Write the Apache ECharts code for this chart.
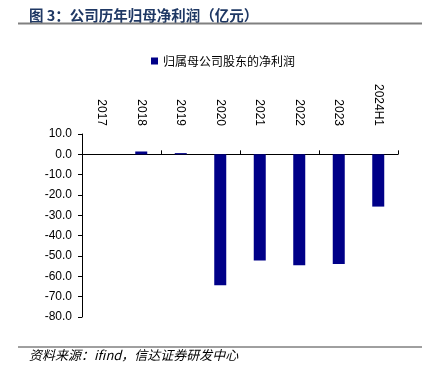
<!DOCTYPE html>
<html><head><meta charset="utf-8">
<script src="https://cdn.jsdelivr.net/npm/echarts@6/dist/echarts.min.js"></script>
<style>html,body{margin:0;padding:0;background:#fff}#c{width:425px;height:372px}</style>
</head><body><div id="c"></div>
<script>
const categories = ['2017','2018','2019','2020','2021','2022','2023','2024H1'];
const netProfit = [0.0, 1.4, 0.6, -64.4, -52.2, -54.5, -53.9, -25.7];
const seriesName = '归属母公司股东的净利润';
const titleText = '图 3：公司历年归母净利润（亿元）';
const sourceText = '资料来源：ifind，信达证券研发中心';

const chart = echarts.init(document.getElementById('c'), null, {renderer:'canvas'});
chart.setOption({
  animation:false,
  backgroundColor:'#fff',
  textStyle:{fontFamily:'Liberation Sans, Arial, sans-serif'},
  graphic:[
    {type:'text', left:29, top:8, style:{text:titleText, fill:'#1f3864', font:'bold 14.5px "Noto Sans CJK SC"'}},
    {type:'line', shape:{x1:18,y1:23.5,x2:422,y2:23.5}, style:{stroke:'#808080', lineWidth:2}},
    {type:'line', shape:{x1:18,y1:347,x2:422,y2:347}, style:{stroke:'#404040', lineWidth:1}},
    {type:'text', left:29, top:349, style:{text:sourceText, fill:'#000', font:'italic 13px "Noto Sans CJK SC"'}}
  ],
  legend:{
    top:50, left:146, itemWidth:7, itemHeight:7, itemGap:4,
    icon:'rect',
    textStyle:{fontFamily:'Noto Sans CJK SC', fontSize:12, color:'#000'},
    data:[seriesName]
  },
  grid:{left:82, right:27, top:134, bottom:55, containLabel:false},
  xAxis:[
    {type:'category', data:categories, position:'top',
     axisLine:{show:false, onZero:false}, axisTick:{show:false},
     axisLabel:{rotate:90, margin:8, color:'#000', fontFamily:'Liberation Sans, Arial, sans-serif', fontSize:12}},
    {type:'category', data:categories, position:'bottom',
     axisLine:{show:true, onZero:true, lineStyle:{color:'#000', width:1}},
     axisTick:{show:true, inside:true, length:4, lineStyle:{color:'#000'}},
     axisLabel:{show:false}}
  ],
  yAxis:{type:'value', min:-80, max:10, interval:10,
    axisLine:{show:true, lineStyle:{color:'#000'}},
    axisTick:{show:true, length:4, lineStyle:{color:'#000'}},
    splitLine:{show:false},
    axisLabel:{margin:10, color:'#000', fontFamily:'Liberation Sans, Arial, sans-serif', fontSize:12,
      formatter:v=>v.toFixed(1)}},
  series:[{name:seriesName, type:'bar', xAxisIndex:0, data:netProfit, barWidth:12,
    itemStyle:{color:'#000088'}}]
});
</script></body></html>
